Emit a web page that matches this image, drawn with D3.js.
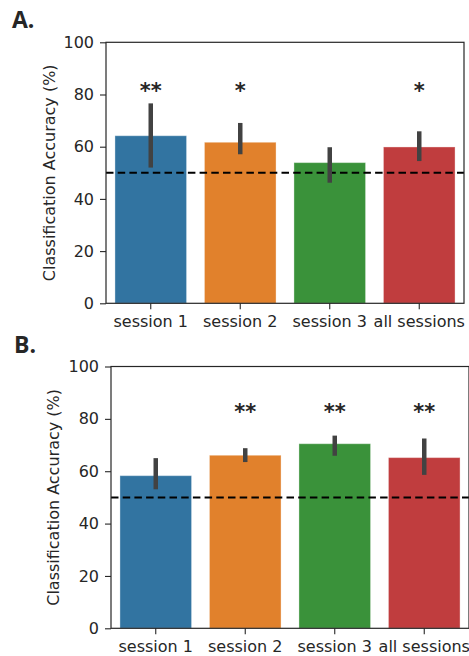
<!DOCTYPE html>
<html>
<head>
<meta charset="utf-8">
<script src="https://cdn.jsdelivr.net/npm/d3@7"></script>
<style>
  html, body { margin: 0; padding: 0; background: #fff; }
  svg { display: block; }
  text { font-family: "DejaVu Sans", sans-serif; fill: #262626; }
</style>
</head>
<body>
<svg id="chart" width="469" height="656"></svg>
<script>
// ---- data ----
const categories = ["session 1", "session 2", "session 3", "all sessions"];
const colors = ["#3274a1", "#e1812c", "#3a923a", "#c03d3e"];
const yTicks = [0, 20, 40, 60, 80, 100];
const chanceLevel = 50;

const accA = [64.2, 61.7, 53.9, 59.9];
const ciLowA = [52.0, 57.1, 46.2, 54.5];
const ciHighA = [76.6, 69.1, 59.8, 65.9];
const sigA = ["**", "*", "", "*"];

const accB = [58.3, 66.1, 70.5, 65.2];
const ciLowB = [53.1, 63.5, 65.9, 58.6];
const ciHighB = [65.0, 68.8, 73.6, 72.5];
const sigB = ["", "**", "**", "**"];

const panelLabels = ["A.", "B."];
const yLabel = "Classification Accuracy (%)";

// ---- drawing ----
const svg = d3.select("#chart");

function drawPanel(opt) {
  const { left, right, top, bottom, acc, lo, hi, sig, label, labelX, labelY, ylabX, starY } = opt;
  const x = d3.scaleBand().domain(categories).range([left, right]).paddingInner(0.2).paddingOuter(0.1);
  const y = d3.scaleLinear().domain([0, 100]).range([bottom, top]);
  const g = svg.append("g");

  // bars
  g.selectAll("rect.bar").data(categories).enter().append("rect")
    .attr("x", d => x(d))
    .attr("width", x.bandwidth())
    .attr("y", (d, i) => y(acc[i]))
    .attr("height", (d, i) => y(0) - y(acc[i]))
    .attr("fill", (d, i) => colors[i])
    .attr("stroke", "#ffffff").attr("stroke-opacity", 0.35).attr("stroke-width", 1);

  // chance line
  g.append("line")
    .attr("x1", left).attr("x2", right)
    .attr("y1", y(chanceLevel)).attr("y2", y(chanceLevel))
    .attr("stroke", "#000").attr("stroke-width", 2)
    .attr("stroke-dasharray", "7.5,4.2");

  // error bars
  g.selectAll("line.err").data(categories).enter().append("line")
    .attr("x1", d => x(d) + x.bandwidth() / 2)
    .attr("x2", d => x(d) + x.bandwidth() / 2)
    .attr("y1", (d, i) => y(lo[i]))
    .attr("y2", (d, i) => y(hi[i]))
    .attr("stroke", "#424242").attr("stroke-width", 4.5);

  // significance stars
  g.selectAll("text.sig").data(categories).enter().append("text")
    .attr("x", d => x(d) + x.bandwidth() / 2)
    .attr("y", starY)
    .attr("text-anchor", "middle")
    .style("font-size", "21px").style("font-weight", "bold")
    .text((d, i) => sig[i]);

  // axes
  const yAxis = d3.axisLeft(y).tickValues(yTicks).tickSize(6).tickPadding(6).tickFormat(d3.format("d"));
  const ya = g.append("g").attr("transform", `translate(${left},0)`).call(yAxis);
  const xAxis = d3.axisBottom(x).tickSize(6).tickPadding(6);
  const xa = g.append("g").attr("transform", `translate(0,${bottom})`).call(xAxis);
  [ya, xa].forEach(a => {
    a.select(".domain").remove();
    a.selectAll(".tick line").attr("stroke", "#262626").attr("stroke-width", 1.1);
    a.selectAll(".tick text").style("font-size", "16px").attr("fill", "#262626")
      .style("font-family", "'DejaVu Sans', sans-serif");
  });

  // frame
  g.append("rect")
    .attr("x", left).attr("y", top)
    .attr("width", right - left).attr("height", bottom - top)
    .attr("fill", "none").attr("stroke", "#262626").attr("stroke-width", 1.2);

  // y label
  g.append("text")
    .attr("transform", `translate(${ylabX},${(top + bottom) / 2}) rotate(-90)`)
    .attr("text-anchor", "middle")
    .attr("dominant-baseline", "central")
    .style("font-size", "16px")
    .text(yLabel);

  // panel label
  g.append("text")
    .attr("x", labelX).attr("y", labelY)
    .style("font-family", "'Open Sans', 'Liberation Sans', sans-serif")
    .style("font-size", "23px").style("font-weight", "bold")
    .attr("fill", "#000")
    .text(label);
}

drawPanel({ left: 106, right: 464, top: 42.3, bottom: 303.3, acc: accA, lo: ciLowA, hi: ciHighA, sig: sigA,
  label: panelLabels[0], labelX: 12, labelY: 28, ylabX: 49, starY: 98 });
drawPanel({ left: 111, right: 469, top: 366.5, bottom: 628.3, acc: accB, lo: ciLowB, hi: ciHighB, sig: sigB,
  label: panelLabels[1], labelX: 14, labelY: 353, ylabX: 53.5, starY: 419 });
</script>
</body>
</html>
